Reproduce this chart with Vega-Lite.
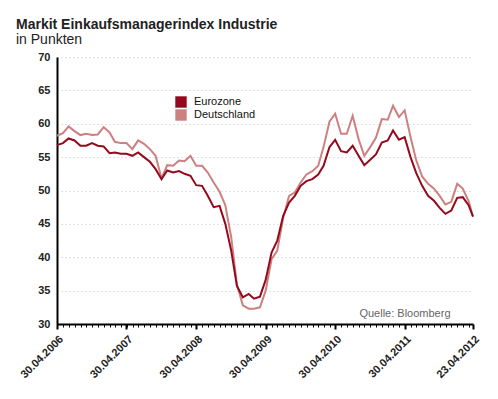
{
  "$schema": "https://vega.github.io/schema/vega-lite/v6.json",
  "autosize": {"type": "none"},
  "padding": {"left": 57, "top": 57, "right": 25, "bottom": 75},
  "width": 416,
  "height": 267,
  "background": "white",
  "title": {
    "text": "Markit Einkaufsmanagerindex Industrie",
    "subtitle": "in Punkten",
    "anchor": "start",
    "frame": "group",
    "dx": -41,
    "offset": 4,
    "font": "Liberation Sans",
    "fontSize": 14,
    "fontWeight": "bold",
    "color": "#222222",
    "subtitleFont": "Liberation Sans",
    "subtitleFontSize": 14,
    "subtitleColor": "#222222",
    "subtitlePadding": 1
  },
  "config": {
    "view": {"stroke": null},
    "font": "Liberation Sans"
  },
  "data": {
    "values": [
      {"date": "2006-04-30", "Eurozone": 56.8, "Deutschland": 58.2},
      {"date": "2006-05-31", "Eurozone": 57.1, "Deutschland": 58.6},
      {"date": "2006-06-30", "Eurozone": 57.8, "Deutschland": 59.6},
      {"date": "2006-07-31", "Eurozone": 57.5, "Deutschland": 58.9},
      {"date": "2006-08-31", "Eurozone": 56.7, "Deutschland": 58.3},
      {"date": "2006-09-30", "Eurozone": 56.7, "Deutschland": 58.5},
      {"date": "2006-10-31", "Eurozone": 57.1, "Deutschland": 58.3},
      {"date": "2006-11-30", "Eurozone": 56.7, "Deutschland": 58.4},
      {"date": "2006-12-31", "Eurozone": 56.6, "Deutschland": 59.5},
      {"date": "2007-01-31", "Eurozone": 55.6, "Deutschland": 58.7},
      {"date": "2007-02-28", "Eurozone": 55.7, "Deutschland": 57.3},
      {"date": "2007-03-31", "Eurozone": 55.5, "Deutschland": 57.1},
      {"date": "2007-04-30", "Eurozone": 55.5, "Deutschland": 57.1},
      {"date": "2007-05-31", "Eurozone": 55.2, "Deutschland": 56.2},
      {"date": "2007-06-30", "Eurozone": 55.7, "Deutschland": 57.5},
      {"date": "2007-07-31", "Eurozone": 55.0, "Deutschland": 57.0},
      {"date": "2007-08-31", "Eurozone": 54.3, "Deutschland": 56.2},
      {"date": "2007-09-30", "Eurozone": 53.2, "Deutschland": 55.2},
      {"date": "2007-10-31", "Eurozone": 51.7, "Deutschland": 51.8},
      {"date": "2007-11-30", "Eurozone": 53.0, "Deutschland": 53.8},
      {"date": "2007-12-31", "Eurozone": 52.7, "Deutschland": 53.7},
      {"date": "2008-01-31", "Eurozone": 52.9, "Deutschland": 54.5},
      {"date": "2008-02-29", "Eurozone": 52.5, "Deutschland": 54.4},
      {"date": "2008-03-31", "Eurozone": 52.2, "Deutschland": 55.2},
      {"date": "2008-04-30", "Eurozone": 50.8, "Deutschland": 53.7},
      {"date": "2008-05-31", "Eurozone": 50.7, "Deutschland": 53.7},
      {"date": "2008-06-30", "Eurozone": 49.2, "Deutschland": 52.7},
      {"date": "2008-07-31", "Eurozone": 47.5, "Deutschland": 51.2},
      {"date": "2008-08-31", "Eurozone": 47.7, "Deutschland": 49.8},
      {"date": "2008-09-30", "Eurozone": 45.0, "Deutschland": 47.8},
      {"date": "2008-10-31", "Eurozone": 41.0, "Deutschland": 43.0},
      {"date": "2008-11-30", "Eurozone": 35.7, "Deutschland": 35.9},
      {"date": "2008-12-31", "Eurozone": 34.0, "Deutschland": 32.8},
      {"date": "2009-01-31", "Eurozone": 34.5, "Deutschland": 32.3},
      {"date": "2009-02-28", "Eurozone": 33.8, "Deutschland": 32.3},
      {"date": "2009-03-31", "Eurozone": 34.1, "Deutschland": 32.5},
      {"date": "2009-04-30", "Eurozone": 36.6, "Deutschland": 35.0},
      {"date": "2009-05-31", "Eurozone": 40.7, "Deutschland": 39.7},
      {"date": "2009-06-30", "Eurozone": 42.5, "Deutschland": 41.0},
      {"date": "2009-07-31", "Eurozone": 46.2, "Deutschland": 45.9},
      {"date": "2009-08-31", "Eurozone": 48.2, "Deutschland": 49.2},
      {"date": "2009-09-30", "Eurozone": 49.2, "Deutschland": 49.7},
      {"date": "2009-10-31", "Eurozone": 50.7, "Deutschland": 51.2},
      {"date": "2009-11-30", "Eurozone": 51.4, "Deutschland": 52.4},
      {"date": "2009-12-31", "Eurozone": 51.7, "Deutschland": 52.9},
      {"date": "2010-01-31", "Eurozone": 52.4, "Deutschland": 53.7},
      {"date": "2010-02-28", "Eurozone": 53.7, "Deutschland": 56.5},
      {"date": "2010-03-31", "Eurozone": 56.5, "Deutschland": 60.3},
      {"date": "2010-04-30", "Eurozone": 57.6, "Deutschland": 61.5},
      {"date": "2010-05-31", "Eurozone": 55.9, "Deutschland": 58.5},
      {"date": "2010-06-30", "Eurozone": 55.7, "Deutschland": 58.5},
      {"date": "2010-07-31", "Eurozone": 56.7, "Deutschland": 61.2},
      {"date": "2010-08-31", "Eurozone": 55.2, "Deutschland": 57.7},
      {"date": "2010-09-30", "Eurozone": 53.8, "Deutschland": 55.2},
      {"date": "2010-10-31", "Eurozone": 54.6, "Deutschland": 56.5},
      {"date": "2010-11-30", "Eurozone": 55.4, "Deutschland": 57.9},
      {"date": "2010-12-31", "Eurozone": 57.2, "Deutschland": 60.7},
      {"date": "2011-01-31", "Eurozone": 57.5, "Deutschland": 60.6},
      {"date": "2011-02-28", "Eurozone": 59.0, "Deutschland": 62.7},
      {"date": "2011-03-31", "Eurozone": 57.6, "Deutschland": 61.0},
      {"date": "2011-04-30", "Eurozone": 58.0, "Deutschland": 62.0},
      {"date": "2011-05-31", "Eurozone": 55.0, "Deutschland": 58.0},
      {"date": "2011-06-30", "Eurozone": 52.6, "Deutschland": 54.5},
      {"date": "2011-07-31", "Eurozone": 50.7, "Deutschland": 52.1},
      {"date": "2011-08-31", "Eurozone": 49.2, "Deutschland": 51.0},
      {"date": "2011-09-30", "Eurozone": 48.5, "Deutschland": 50.3},
      {"date": "2011-10-31", "Eurozone": 47.4, "Deutschland": 49.2},
      {"date": "2011-11-30", "Eurozone": 46.5, "Deutschland": 47.9},
      {"date": "2011-12-31", "Eurozone": 47.0, "Deutschland": 48.3},
      {"date": "2012-01-31", "Eurozone": 48.9, "Deutschland": 51.0},
      {"date": "2012-02-29", "Eurozone": 49.0, "Deutschland": 50.3},
      {"date": "2012-03-31", "Eurozone": 47.8, "Deutschland": 48.4},
      {"date": "2012-04-23", "Eurozone": 46.1, "Deutschland": 46.1}
    ]
  },
  "resolve": {"axis": {"x": "independent"}},
  "layer": [
    {
      "transform": [
        {"fold": ["Deutschland", "Eurozone"], "as": ["series", "value"]}
      ],
      "mark": {"type": "line", "strokeWidth": 2, "strokeJoin": "miter"},
      "encoding": {
        "x": {
          "field": "date",
          "type": "temporal",
          "scale": {
            "type": "utc",
            "domain": [
              {"year": 2006, "month": "apr", "date": 30, "utc": true},
              {"year": 2012, "month": "apr", "date": 23, "utc": true}
            ],
            "nice": false
          },
          "axis": {
            "orient": "bottom",
            "title": "Quelle: Bloomberg",
            "titleX": 393,
            "titleY": -11,
            "titleAlign": "right",
            "titleBaseline": "middle",
            "titleAngle": 0,
            "titleFont": "Liberation Sans",
            "titleFontSize": 11,
            "titleFontWeight": "normal",
            "titleColor": "#666666",
            "values": [
              {"year": 2006, "month": "apr", "date": 30, "utc": true},
              {"year": 2007, "month": "apr", "date": 30, "utc": true},
              {"year": 2008, "month": "apr", "date": 30, "utc": true},
              {"year": 2009, "month": "apr", "date": 30, "utc": true},
              {"year": 2010, "month": "apr", "date": 30, "utc": true},
              {"year": 2011, "month": "apr", "date": 30, "utc": true},
              {"year": 2012, "month": "apr", "date": 23, "utc": true}
            ],
            "labelExpr": "utcFormat(datum.value, '%d.%m.%Y')",
            "labelAngle": -45,
            "labelFont": "Liberation Sans",
            "labelFontSize": 11,
            "labelFontWeight": "bold",
            "labelColor": "#222222",
            "labelPadding": 4,
            "labelOverlap": false,
            "labelFlush": false,
            "grid": false,
            "domainColor": "#000000",
            "domainWidth": 2,
            "tickColor": "#000000",
            "tickWidth": 2,
            "tickSize": 5
          }
        },
        "y": {
          "field": "value",
          "type": "quantitative",
          "scale": {"domain": [30, 70], "nice": false, "zero": false},
          "axis": {
            "title": null,
            "values": [30, 35, 40, 45, 50, 55, 60, 65, 70],
            "labelOverlap": false,
            "labelFont": "Liberation Sans",
            "labelFontSize": 11,
            "labelFontWeight": "bold",
            "labelColor": "#222222",
            "labelPadding": 7,
            "ticks": false,
            "domainColor": "#000000",
            "domainWidth": 2,
            "grid": true,
            "gridColor": "#c4c4c4",
            "gridDash": [1, 3],
            "gridWidth": 1
          }
        },
        "color": {
          "field": "series",
          "type": "nominal",
          "scale": {"domain": ["Eurozone", "Deutschland"], "range": ["#940a1c", "#cd8080"]},
          "legend": {
            "title": null,
            "orient": "none",
            "legendX": 118,
            "legendY": 39,
            "symbolType": "square",
            "symbolSize": 130,
            "symbolStrokeWidth": 0,
            "labelFont": "Liberation Sans",
            "labelFontSize": 11,
            "labelColor": "#111111",
            "labelOffset": 7,
            "rowPadding": 1,
            "encode": {
              "symbols": {"update": {"fill": {"scale": "color", "field": "value"}, "opacity": {"value": 1}}}
            }
          }
        }
      }
    },
    {
      "mark": {"type": "point", "opacity": 0},
      "encoding": {
        "x": {
          "field": "date",
          "type": "temporal",
          "axis": {
            "orient": "bottom",
            "title": null,
            "labels": false,
            "domain": false,
            "grid": false,
            "tickCount": {"interval": "month", "step": 1},
            "tickColor": "#000000",
            "tickWidth": 1,
            "tickSize": 3
          }
        }
      }
    }
  ]
}
